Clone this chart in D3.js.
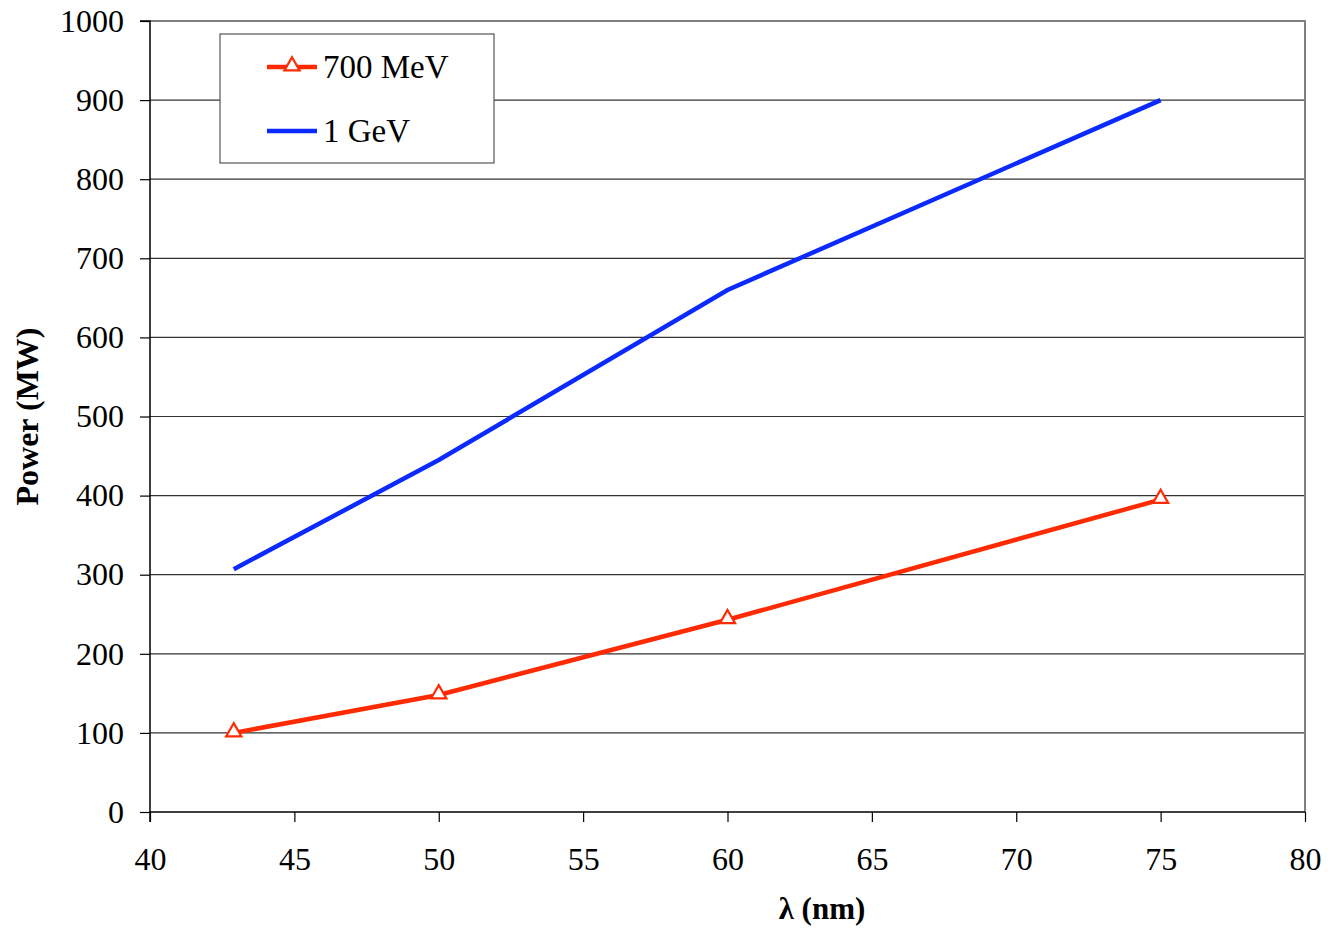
<!DOCTYPE html>
<html>
<head>
<meta charset="utf-8">
<script src="https://cdn.jsdelivr.net/npm/d3@7"></script>
<style>
  body { margin: 0; background: #fff; }
  text { font-family: "Liberation Serif", "Times New Roman", serif; }
</style>
</head>
<body>
<div id="chart"></div>
<script>
// data
const lambda = [42.9, 50, 60, 75];
const power700MeV = [100, 148, 243, 395];
const power1GeV = [307, 445, 660, 900];
const xTicks = [40, 45, 50, 55, 60, 65, 70, 75, 80];
const yTicks = [0, 100, 200, 300, 400, 500, 600, 700, 800, 900, 1000];
const seriesNames = ['700 MeV', '1 GeV'];

const width = 1340, height = 930;
const margin = { left: 150, right: 35, top: 21, bottom: 118 };

const svg = d3.select('#chart')
    .append('svg')
    .attr('width', width)
    .attr('height', height);

const x = d3.scaleLinear().domain([40, 80]).range([margin.left, width - margin.right]);
const y = d3.scaleLinear().domain([0, 1000]).range([height - margin.bottom, margin.top]);

// gridlines
svg.append('g')
    .selectAll('line')
    .data(yTicks.filter(d => d > 0 && d < 1000))
    .join('line')
    .attr('x1', x(40)).attr('x2', x(80))
    .attr('y1', d => y(d)).attr('y2', d => y(d))
    .attr('stroke', '#333')
    .attr('stroke-width', 1.2);

// frame top/right
svg.append('path')
    .attr('d', `M${x(40)},${y(1000)}H${x(80)}V${y(0)}`)
    .attr('fill', 'none')
    .attr('stroke', '#808080')
    .attr('stroke-width', 2);

// axes
const xAxis = svg.append('g')
    .attr('transform', `translate(0,${y(0)})`)
    .call(d3.axisBottom(x).tickValues(xTicks).tickFormat(d3.format('d')).tickSize(10).tickPadding(25));
const yAxis = svg.append('g')
    .attr('transform', `translate(${x(40)},0)`)
    .call(d3.axisLeft(y).tickValues(yTicks).tickFormat(d3.format('d')).tickSize(10).tickPadding(16));

[xAxis, yAxis].forEach(a => {
    a.select('.domain').attr('stroke', '#000').attr('stroke-width', 1.5);
    a.selectAll('.tick line').attr('stroke', '#000').attr('stroke-width', 1.2);
    a.selectAll('.tick text')
        .attr('fill', '#000')
        .style('font-family', '"Liberation Serif", serif')
        .style('font-size', '32px');
});
xAxis.select('.domain').attr('d', `M${x(40)},10V0H${x(80)}`);
yAxis.select('.domain').attr('d', `M-10,${y(1000)}H0V${y(0)}`);

// axis titles
svg.append('text')
    .attr('x', 822)
    .attr('y', 919)
    .attr('text-anchor', 'middle')
    .style('font-size', '31px')
    .style('font-weight', 'bold')
    .text('λ (nm)');

svg.append('text')
    .attr('transform', `translate(38,${(y(0) + y(1000)) / 2}) rotate(-90)`)
    .attr('text-anchor', 'middle')
    .style('font-size', '32px')
    .style('font-weight', 'bold')
    .text('Power (MW)');

// lines
const line = d3.line().x(d => x(d[0])).y(d => y(d[1]));
const red = '#ff2a00', blue = '#0a2aff';
const redData = d3.zip(lambda, power700MeV);
const blueData = d3.zip(lambda, power1GeV);

svg.append('path')
    .datum(blueData)
    .attr('d', line)
    .attr('fill', 'none')
    .attr('stroke', blue)
    .attr('stroke-width', 4.5);

svg.append('path')
    .datum(redData)
    .attr('d', line)
    .attr('fill', 'none')
    .attr('stroke', red)
    .attr('stroke-width', 4.5);

const tri = d3.symbol().type(d3.symbolTriangle).size(100);
svg.append('g')
    .selectAll('path')
    .data(redData)
    .join('path')
    .attr('transform', d => `translate(${x(d[0])},${y(d[1]) - 1})`)
    .attr('d', tri)
    .attr('fill', '#fff')
    .attr('stroke', red)
    .attr('stroke-width', 2.2);

// legend
const legend = svg.append('g');
legend.append('rect')
    .attr('x', 220).attr('y', 34)
    .attr('width', 274).attr('height', 129)
    .attr('fill', '#fff')
    .attr('stroke', '#555')
    .attr('stroke-width', 1.2);

const legendColors = [red, blue];
seriesNames.forEach((name, i) => {
    const ly = 67 + i * 64;
    legend.append('line')
        .attr('x1', 267).attr('x2', 317)
        .attr('y1', ly).attr('y2', ly)
        .attr('stroke', legendColors[i])
        .attr('stroke-width', 4.5);
    if (i === 0) {
        legend.append('path')
            .attr('transform', `translate(292,${ly - 1})`)
            .attr('d', tri)
            .attr('fill', '#fff')
            .attr('stroke', red)
            .attr('stroke-width', 2.2);
    }
    legend.append('text')
        .attr('x', 323)
        .attr('y', ly + 11)
        .style('font-size', '33px')
        .text(name);
});
</script>
</body>
</html>
